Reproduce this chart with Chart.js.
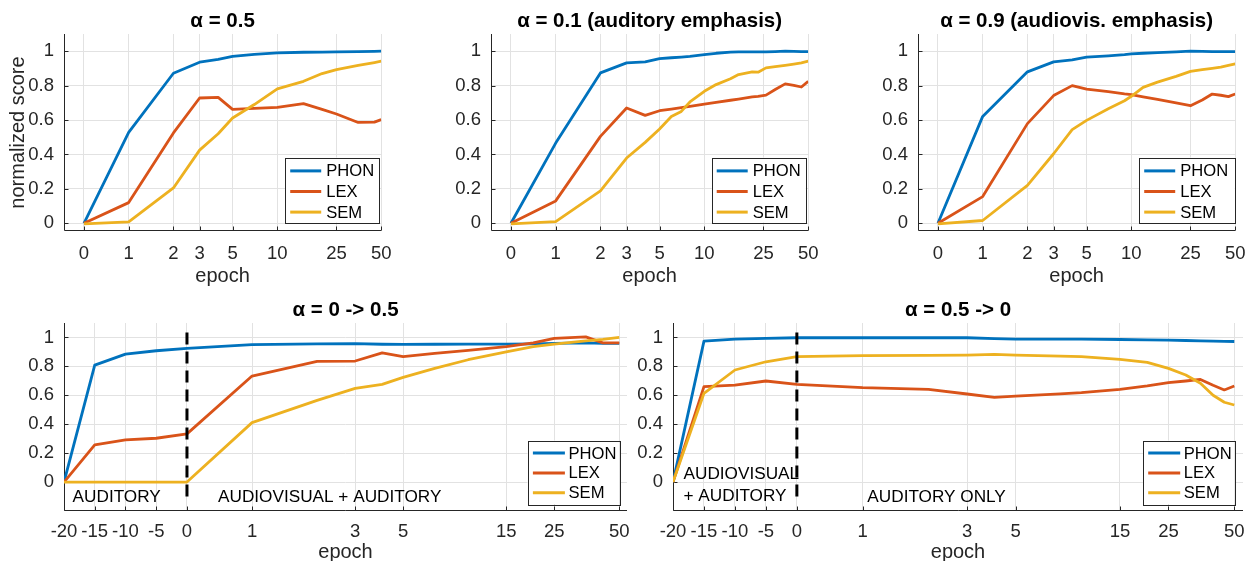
<!DOCTYPE html>
<html><head><meta charset="utf-8">
<script src="https://cdn.jsdelivr.net/npm/chart.js@4.4.1/dist/chart.umd.min.js"></script>
<style>
html,body{margin:0;padding:0;background:#fff;}
body{width:1247px;height:561px;overflow:hidden;position:relative;}
canvas{position:absolute;}
</style></head><body>
<script>
// ------------------ DATA ------------------
const SERIES_NAMES = ['PHON', 'LEX', 'SEM'];
const TOP_X_TICKS = [0, 1, 2, 3, 5, 10, 25, 50];
const BOTTOM_X_TICKS = [-20, -15, -10, -5, 0, 1, 3, 5, 15, 25, 50];
const Y_TICKS = [0, 0.2, 0.4, 0.6, 0.8, 1];
const Y_TICK_LABELS = ['0', '0.2', '0.4', '0.6', '0.8', '1'];
const TITLES = ['\u03b1 = 0.5', '\u03b1 = 0.1 (auditory emphasis)', '\u03b1 = 0.9 (audiovis. emphasis)', '\u03b1 = 0 -> 0.5', '\u03b1 = 0.5 -> 0'];

// alpha = 0.5
const TL_EPOCHS = [0, 1, 2, 3, 4, 5, 7, 10, 15, 20, 25, 35, 45, 50];
const TL_PHON = [0, 0.528, 0.872, 0.936, 0.952, 0.970, 0.982, 0.990, 0.994, 0.995, 0.996, 0.997, 0.999, 1.0];
const TL_LEX  = [0, 0.120, 0.525, 0.728, 0.732, 0.662, 0.668, 0.674, 0.695, 0.662, 0.635, 0.586, 0.588, 0.602];
const TL_SEM  = [-0.003, 0.008, 0.205, 0.425, 0.520, 0.612, 0.690, 0.781, 0.825, 0.870, 0.893, 0.917, 0.934, 0.942];

// alpha = 0.1
const TM_EPOCHS = [0, 1, 2, 3, 4, 5, 6, 7, 8, 10, 12, 15, 17, 21, 23, 26, 30, 35, 40, 45, 50];
const TM_PHON = [0, 0.466, 0.874, 0.932, 0.938, 0.957, 0.962, 0.966, 0.970, 0.980, 0.988, 0.995, 0.996, 0.996, 0.996, 0.996, 0.998, 1.0, 0.999, 0.998, 0.998];
const TM_LEX  = [0, 0.130, 0.505, 0.670, 0.627, 0.654, 0.664, 0.672, 0.680, 0.693, 0.703, 0.715, 0.722, 0.734, 0.738, 0.745, 0.777, 0.810, 0.802, 0.792, 0.825];
const TM_SEM  = [-0.003, 0.010, 0.188, 0.379, 0.470, 0.548, 0.620, 0.650, 0.705, 0.767, 0.806, 0.840, 0.864, 0.880, 0.878, 0.903, 0.911, 0.918, 0.925, 0.932, 0.942];

// alpha = 0.9
const TR_EPOCHS = [0, 1, 2, 3, 4, 5, 7, 9, 10, 12, 15, 20, 25, 30, 35, 40, 45, 50];
const TR_PHON = [0, 0.621, 0.880, 0.938, 0.950, 0.965, 0.973, 0.980, 0.984, 0.988, 0.992, 0.996, 1.0, 0.999, 0.998, 0.998, 0.998, 0.998];
const TR_LEX  = [0, 0.155, 0.579, 0.742, 0.800, 0.780, 0.765, 0.752, 0.748, 0.735, 0.720, 0.700, 0.683, 0.716, 0.751, 0.744, 0.736, 0.751];
const TR_SEM  = [-0.004, 0.016, 0.220, 0.404, 0.544, 0.598, 0.665, 0.712, 0.738, 0.790, 0.820, 0.854, 0.883, 0.893, 0.900, 0.907, 0.917, 0.926];

// alpha = 0 -> 0.5
const BL_EPOCHS = [-20, -15, -10, -5, 0, 1, 2, 3, 4, 5, 7, 10, 15, 20, 25, 35, 42, 50];
const BL_PHON = [0, 0.809, 0.885, 0.908, 0.924, 0.950, 0.955, 0.958, 0.953, 0.952, 0.953, 0.954, 0.954, 0.956, 0.959, 0.963, 0.959, 0.959];
const BL_LEX  = [0, 0.257, 0.292, 0.303, 0.333, 0.733, 0.835, 0.837, 0.894, 0.867, 0.890, 0.910, 0.936, 0.963, 0.993, 1.004, 0.963, 0.963];
const BL_SEM  = [0, 0, 0, 0, 0, 0.411, 0.565, 0.648, 0.676, 0.724, 0.786, 0.846, 0.901, 0.936, 0.954, 0.977, 0.987, 1.0];

// alpha = 0.5 -> 0
const BR_EPOCHS = [-20, -15, -10, -5, 0, 1, 2, 3, 4, 5, 8, 10, 15, 20, 25, 30, 35, 40, 45, 50];
const BR_PHON = [0, 0.975, 0.989, 0.993, 0.998, 0.998, 0.998, 0.998, 0.992, 0.989, 0.989, 0.988, 0.986, 0.984, 0.982, 0.979, 0.977, 0.975, 0.973, 0.972];
const BR_LEX  = [0, 0.660, 0.671, 0.699, 0.676, 0.653, 0.641, 0.609, 0.586, 0.595, 0.610, 0.618, 0.641, 0.665, 0.687, 0.699, 0.710, 0.669, 0.637, 0.664];
const BR_SEM  = [0, 0.614, 0.775, 0.832, 0.867, 0.874, 0.876, 0.878, 0.883, 0.878, 0.871, 0.867, 0.848, 0.828, 0.786, 0.740, 0.683, 0.600, 0.552, 0.533];

// phase switch marker (epoch 0) for the bottom panels
const SWITCH_EPOCH = [0, 0];
const SWITCH_Y = [-0.1, 1.065];

// ------------------ STYLE ------------------
const FAMILY = '"Liberation Sans", Arial, Helvetica, sans-serif';
const COLORS = ['#0072BD', '#D95319', '#EDB120'];
const GRID = '#e2e2e2', AXIS = '#262626', TXT = '#262626';
const YW = 64, RPAD = 20;
Chart.defaults.font.family = FAMILY;

// piecewise axis: linear for negative epochs, logarithmic for positive ones (epoch 0 placed at 0.5)
class EpochScale extends Chart.LinearScale {
  static id = 'epoch';
  static defaults = Chart.LinearScale.defaults;
  _t(v) {
    const z = Math.log(0.5);
    return v < 0 ? z + v * this.options.negSlope : Math.log(Math.max(v, 0.5));
  }
  getPixelForValue(v) {
    if (v === null || v === undefined) return NaN;
    const a = this._t(this.min), b = this._t(this.max);
    return this.getPixelForDecimal((this._t(v) - a) / (b - a));
  }
  getValueForPixel(p) {
    const a = this._t(this.min), b = this._t(this.max);
    const t = a + this.getDecimalForPixel(p) * (b - a);
    const z = Math.log(0.5);
    return t < z ? (t - z) / this.options.negSlope : Math.exp(t);
  }
}
Chart.register(EpochScale);

const axesPlugin = {
  id: 'matAxes',
  beforeDatasetsDraw(chart) {
    const {ctx, chartArea: a, scales: {x, y}} = chart;
    ctx.save();
    ctx.strokeStyle = AXIS; ctx.lineWidth = 1;
    const L = Math.round(a.left) + 0.5, B = Math.round(a.bottom) - 0.5;
    ctx.beginPath();
    ctx.moveTo(L, a.top); ctx.lineTo(L, B); ctx.lineTo(a.right, B);
    x.ticks.forEach(t => { const px = Math.round(x.getPixelForValue(t.value)) + 0.5; ctx.moveTo(px, B); ctx.lineTo(px, B - 4); });
    y.ticks.forEach(t => { const py = Math.round(y.getPixelForValue(t.value)) + 0.5; ctx.moveTo(L, py); ctx.lineTo(L + 4, py); });
    ctx.stroke();
    ctx.restore();
  }
};

const legendPlugin = {
  id: 'boxLegend',
  afterDatasetsDraw(chart, args, o) {
    const {ctx, chartArea: a} = chart;
    const x = a.right - o.right - o.w, y = a.bottom - o.bottom - o.h;
    ctx.save();
    ctx.fillStyle = '#fff';
    ctx.fillRect(x, y, o.w, o.h);
    ctx.strokeStyle = AXIS; ctx.lineWidth = 1;
    ctx.strokeRect(Math.round(x) + 0.5, Math.round(y) + 0.5, Math.round(o.w), Math.round(o.h));
    ctx.font = '16.6px ' + FAMILY;
    ctx.textBaseline = 'middle'; ctx.textAlign = 'left';
    chart.data.datasets.filter(d => d.label).forEach((d, i) => {
      const cy = y + o.row0 + i * o.rowH;
      ctx.strokeStyle = d.borderColor; ctx.lineWidth = 3;
      ctx.beginPath(); ctx.moveTo(x + o.lx, cy); ctx.lineTo(x + o.lx + o.ll, cy); ctx.stroke();
      ctx.fillStyle = '#000';
      ctx.fillText(d.label, x + o.tx, cy + 1);
    });
    ctx.restore();
  }
};

const annotPlugin = {
  id: 'annot',
  afterDatasetsDraw(chart, args, o) {
    if (!o.items) return;
    const {ctx, scales: {x, y}} = chart;
    ctx.save();
    ctx.font = '17.2px ' + FAMILY;
    ctx.fillStyle = '#000'; ctx.textBaseline = 'middle'; ctx.textAlign = 'left';
    o.items.forEach(it => ctx.fillText(it.text, x.getPixelForValue(it.x), y.getPixelForValue(it.y)));
    ctx.restore();
  }
};

// ------------------ PANELS ------------------
const TOP_GEOM = {canvasTop: 0, canvasBottom: 291, titleMid: 21.7, epochMid: 276.5, xPad: 11.5, T: 34, B: 231, ymin: -0.045, ymax: 1.1};
const BOT_GEOM = {canvasTop: 290, canvasBottom: 568, titleMid: 310.5, epochMid: 552.5, xPad: 10, T: 323, B: 511, ymin: -0.2, ymax: 1.1};
const TOP_LEG = {w: 94, h: 65, bottom: 8.5, row0: 13.4, rowH: 20.6, lx: 5, ll: 31, tx: 41};
const BOT_LEG = {w: 91.5, h: 63.5, bottom: 7, row0: 12.6, rowH: 19.8, lx: 5.4, ll: 32, tx: 41};

const PANELS = [
  {title: TITLES[0], epochs: TL_EPOCHS, series: [TL_PHON, TL_LEX, TL_SEM], g: TOP_GEOM, L: 64, R: 383,
   xTicks: TOP_X_TICKS, xmin: -1, xmax: 50, negSlope: 0.309, yLabel: 'normalized score', leg: Object.assign({right: 2}, TOP_LEG)},
  {title: TITLES[1], epochs: TM_EPOCHS, series: [TM_PHON, TM_LEX, TM_SEM], g: TOP_GEOM, L: 491, R: 810,
   xTicks: TOP_X_TICKS, xmin: -1, xmax: 50, negSlope: 0.309, leg: Object.assign({right: 2.5}, TOP_LEG)},
  {title: TITLES[2], epochs: TR_EPOCHS, series: [TR_PHON, TR_LEX, TR_SEM], g: TOP_GEOM, L: 918, R: 1237,
   xTicks: TOP_X_TICKS, xmin: -1, xmax: 50, negSlope: 0.309, leg: Object.assign({right: 0.5}, TOP_LEG, {w: 95.5})},
  {title: TITLES[3], epochs: BL_EPOCHS, series: [BL_PHON, BL_LEX, BL_SEM], g: BOT_GEOM, L: 64, R: 627,
   xTicks: BOTTOM_X_TICKS, xmin: -20, xmax: 54.3, negSlope: 0.0655, switchLine: true, leg: Object.assign({right: 8}, BOT_LEG),
   annot: [{text: 'AUDITORY', x: -18.6, y: -0.108}, {text: 'AUDIOVISUAL + AUDITORY', x: 0.696, y: -0.108}]},
  {title: TITLES[4], epochs: BR_EPOCHS, series: [BR_PHON, BR_LEX, BR_SEM], g: BOT_GEOM, L: 673, R: 1243,
   xTicks: BOTTOM_X_TICKS, xmin: -20, xmax: 54.8, negSlope: 0.0652, switchLine: true, leg: Object.assign({right: 8.7}, BOT_LEG),
   annot: [{text: 'AUDIOVISUAL', x: -18.3, y: 0.057}, {text: '+ AUDITORY', x: -18.3, y: -0.101}, {text: 'AUDITORY ONLY', x: 1.05, y: -0.108}]}
];

PANELS.forEach(p => {
  const g = p.g;
  const c = document.createElement('canvas');
  const left = p.L - YW, top = g.canvasTop;
  const width = p.R - p.L + YW + RPAD, height = g.canvasBottom - top;
  c.width = width; c.height = height;
  c.style.left = left + 'px'; c.style.top = top + 'px';
  c.style.width = width + 'px'; c.style.height = height + 'px';
  document.body.appendChild(c);
  const TH = g.T - top, XH = g.canvasBottom - g.B;
  const tPadTop = g.titleMid - top - 11, tPadBot = TH - 22 - tPadTop;
  const xTitlePadBot = g.canvasBottom - g.epochMid - 12;

  const datasets = p.series.map((vals, k) => ({
    label: SERIES_NAMES[k],
    data: p.epochs.map((e, i) => ({x: e, y: vals[i]})),
    borderColor: COLORS[k], backgroundColor: COLORS[k],
    borderWidth: 2.8, pointRadius: 0, tension: 0, fill: false,
    borderJoinStyle: 'round', order: 3 - k
  }));
  if (p.switchLine) {
    datasets.push({
      label: '', data: SWITCH_EPOCH.map((e, i) => ({x: e, y: SWITCH_Y[i]})),
      borderColor: '#000', borderWidth: 3, borderDash: [12, 7], borderCapStyle: 'butt',
      pointRadius: 0, fill: false, order: 0
    });
  }

  new Chart(c, {
    type: 'line',
    data: {datasets},
    plugins: [axesPlugin, legendPlugin, annotPlugin],
    options: {
      responsive: false, animation: false, events: [],
      layout: {padding: {left: 0, top: 0, bottom: 0, right: RPAD}},
      plugins: {
        legend: {display: false}, tooltip: {enabled: false},
        title: {display: true, text: p.title, fullSize: false, align: 'center', color: '#000',
                font: {size: 20.5, weight: 'bold', lineHeight: '22px'},
                padding: {top: tPadTop, bottom: Math.max(tPadBot, 0)}},
        boxLegend: p.leg,
        annot: {items: p.annot || null}
      },
      scales: {
        x: {
          type: 'epoch', min: p.xmin, max: p.xmax, negSlope: p.negSlope, bounds: 'data',
          afterBuildTicks: s => { s.ticks = p.xTicks.map(v => ({value: v})); },
          afterFit: s => { s.height = XH; },
          ticks: {autoSkip: false, maxRotation: 0, minRotation: 0, padding: g.xPad, color: TXT,
                  font: {size: 18.5, lineHeight: '22px'}, callback: (v, i) => String(p.xTicks[i])},
          grid: {color: GRID, lineWidth: 1, drawTicks: false},
          border: {display: false},
          title: {display: true, text: 'epoch', color: TXT, font: {size: 20, lineHeight: '24px'},
                  padding: {top: 0, bottom: xTitlePadBot}}
        },
        y: {
          type: 'linear', min: g.ymin, max: g.ymax, bounds: 'data',
          afterBuildTicks: s => { s.ticks = Y_TICKS.map(v => ({value: v})); },
          afterFit: s => { s.width = YW; },
          ticks: {padding: 10, color: TXT, font: {size: 18.5, lineHeight: '22px'},
                  callback: (v, i) => Y_TICK_LABELS[i]},
          grid: {color: GRID, lineWidth: 1, drawTicks: false},
          border: {display: false},
          title: {display: !!p.yLabel, text: p.yLabel || '', color: TXT,
                  font: {size: 20, lineHeight: '24px'}, padding: {top: 6, bottom: 0}}
        }
      }
    }
  });
});
</script>
</body></html>
